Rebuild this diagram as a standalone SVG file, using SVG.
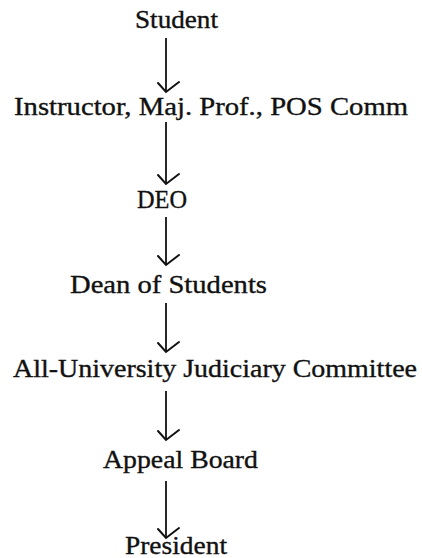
<svg xmlns="http://www.w3.org/2000/svg" width="422" height="558" viewBox="0 0 422 558">
  <style>
    .lbl { font-family: "Liberation Serif", "Times New Roman", serif; font-size: 25px; fill: #111; stroke: #111; stroke-width: 0.35; }
    .conn { stroke: #111; stroke-width: 1.8; fill: none; }
  </style>
  <defs>
    <marker id="vhead" markerUnits="userSpaceOnUse" orient="auto" viewBox="-14 -14 20 28" markerWidth="20" markerHeight="28" refX="0" refY="0" overflow="visible">
      <path d="M -9 8 L 0 0 L -10 -13" stroke="#111" stroke-width="2" fill="none" stroke-linecap="round" stroke-linejoin="miter"/>
    </marker>
  </defs>
  <rect width="422" height="558" fill="#ffffff"/>

  <g id="n-student"><text class="lbl" x="135" y="28" textLength="83" lengthAdjust="spacingAndGlyphs">Student</text></g>
  <g id="n-instructor"><text class="lbl" x="14" y="115" textLength="394" lengthAdjust="spacingAndGlyphs">Instructor, Maj. Prof., POS Comm</text></g>
  <g id="n-deo"><text class="lbl" x="137" y="208" textLength="50" lengthAdjust="spacingAndGlyphs">DEO</text></g>
  <g id="n-dean"><text class="lbl" x="70" y="293" textLength="197" lengthAdjust="spacingAndGlyphs">Dean of Students</text></g>
  <g id="n-aujc"><text class="lbl" x="13" y="377" textLength="404" lengthAdjust="spacingAndGlyphs">All-University Judiciary Committee</text></g>
  <g id="n-appeal"><text class="lbl" x="103" y="468" textLength="155" lengthAdjust="spacingAndGlyphs">Appeal Board</text></g>
  <g id="n-president"><text class="lbl" x="125" y="554" textLength="102" lengthAdjust="spacingAndGlyphs">President</text></g>

  <g id="connectors">
    <line class="conn" x1="166" y1="38" x2="166" y2="92" marker-end="url(#vhead)"/>
    <line class="conn" x1="166" y1="122" x2="166" y2="184" marker-end="url(#vhead)"/>
    <line class="conn" x1="166" y1="217" x2="166" y2="265" marker-end="url(#vhead)"/>
    <line class="conn" x1="166" y1="303" x2="166" y2="352" marker-end="url(#vhead)"/>
    <line class="conn" x1="166" y1="391" x2="166" y2="440" marker-end="url(#vhead)"/>
    <line class="conn" x1="166" y1="481" x2="166" y2="538" marker-end="url(#vhead)"/>
  </g>
</svg>
